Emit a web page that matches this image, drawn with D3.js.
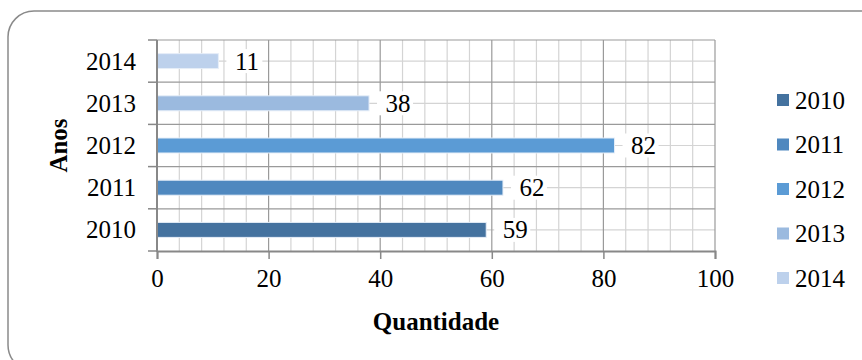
<!DOCTYPE html>
<html>
<head>
<meta charset="utf-8">
<script src="https://cdn.jsdelivr.net/npm/d3@7"></script>
<style>
  html, body { margin: 0; padding: 0; background: #fff; }
  svg { display: block; }
  text { font-family: "Liberation Serif", "Times New Roman", serif; fill: #000; }
</style>
</head>
<body>
<svg id="chart" width="862" height="360"></svg>
<script>
// Quantidade por ano
const anos = ["2010", "2011", "2012", "2013", "2014"];
const quantidades = [59, 62, 82, 38, 11];
const cores = ["#44729f", "#4f88bf", "#5b9bd5", "#9bbadf", "#bdd1ec"];
const xTicks = [0, 20, 40, 60, 80, 100];

const svg = d3.select("#chart");
const plot = { left: 157, right: 715, top: 40, bottom: 251 };
const fontSize = 25;

// rounded frame around the chart
svg.append("rect")
  .attr("x", 8).attr("y", 11)
  .attr("width", 880).attr("height", 360)
  .attr("rx", 26).attr("ry", 26)
  .attr("fill", "#fff")
  .attr("stroke", "#8a8a8a")
  .attr("stroke-width", 1.5);

const x = d3.scaleLinear().domain([0, 100]).range([plot.left, plot.right]);
const y = d3.scaleBand()
  .domain(anos.slice().reverse())
  .range([plot.top, plot.bottom])
  .padding(0);
const bw = y.bandwidth();
const barH = bw * 0.355;

const grid = svg.append("g");

// minor vertical lines every 4 units
grid.selectAll("line.vminor")
  .data(d3.range(0, 101, 4).filter(v => v % 20 !== 0))
  .join("line")
  .attr("x1", d => x(d)).attr("x2", d => x(d))
  .attr("y1", plot.top).attr("y2", plot.bottom)
  .attr("stroke", "#d4d4d4").attr("stroke-width", 1.2);

// minor horizontal lines at band centres
grid.selectAll("line.hminor")
  .data(anos)
  .join("line")
  .attr("x1", plot.left).attr("x2", plot.right)
  .attr("y1", d => y(d) + bw / 2).attr("y2", d => y(d) + bw / 2)
  .attr("stroke", "#d4d4d4").attr("stroke-width", 1.2);

// major vertical lines
grid.selectAll("line.vmajor")
  .data(xTicks.slice(1))
  .join("line")
  .attr("x1", d => x(d)).attr("x2", d => x(d))
  .attr("y1", plot.top).attr("y2", plot.bottom)
  .attr("stroke", "#9a9a9a").attr("stroke-width", 1.2);

// major horizontal lines at band boundaries
grid.selectAll("line.hmajor")
  .data(anos)
  .join("line")
  .attr("x1", plot.left).attr("x2", plot.right)
  .attr("y1", d => y(d)).attr("y2", d => y(d))
  .attr("stroke", "#9a9a9a").attr("stroke-width", 1.2);

// value labels with white backing
const labels = svg.append("g");
anos.forEach((a, i) => {
  const v = quantidades[i];
  const cy = y(a) + bw / 2;
  const tx = x(v) + 16.5;
  labels.append("rect")
    .attr("x", x(v) + 8).attr("y", cy - 12)
    .attr("width", (String(v).length * fontSize * 0.5) + 11)
    .attr("height", 24)
    .attr("fill", "#fff");
  labels.append("text")
    .attr("x", tx).attr("y", cy + 8.5)
    .attr("font-size", fontSize)
    .text(v);
});

// bars
svg.append("g").selectAll("rect")
  .data(anos)
  .join("rect")
  .attr("x", x(0))
  .attr("y", d => y(d) + (bw - barH) / 2)
  .attr("width", (d, i) => x(quantidades[i]) - x(0))
  .attr("height", barH)
  .attr("fill", (d, i) => cores[i])
  .attr("stroke", "#e6eef8")
  .attr("stroke-width", 1);

// x axis
const xAxis = svg.append("g")
  .attr("transform", `translate(0,${plot.bottom})`)
  .call(d3.axisBottom(x).tickValues(xTicks).tickSize(8).tickPadding(10));
xAxis.select(".domain").attr("stroke", "#888").attr("stroke-width", 2);
xAxis.selectAll(".tick line").attr("stroke", "#888").attr("stroke-width", 1.5);
xAxis.selectAll(".tick text")
  .attr("font-size", fontSize)
  .attr("font-family", "Liberation Serif, Times New Roman, serif")
  .attr("fill", "#000");

// y axis: ticks at band boundaries, labels at centres
const yAxis = svg.append("g").attr("transform", `translate(${plot.left},0)`);
yAxis.append("line")
  .attr("x1", 0).attr("x2", 0)
  .attr("y1", plot.top).attr("y2", plot.bottom + 1)
  .attr("stroke", "#888").attr("stroke-width", 2);
yAxis.selectAll("line.tk")
  .data(anos.map(a => y(a)).concat([plot.bottom]))
  .join("line")
  .attr("x1", -9).attr("x2", 0)
  .attr("y1", d => d).attr("y2", d => d)
  .attr("stroke", "#888").attr("stroke-width", 1.5);
yAxis.selectAll("text")
  .data(anos)
  .join("text")
  .attr("x", -21)
  .attr("y", d => y(d) + bw / 2 + 8.5)
  .attr("text-anchor", "end")
  .attr("font-size", fontSize)
  .text(d => d);

// axis titles
svg.append("text")
  .attr("x", (plot.left + plot.right) / 2)
  .attr("y", 330)
  .attr("text-anchor", "middle")
  .attr("font-size", fontSize)
  .attr("font-weight", "bold")
  .text("Quantidade");

svg.append("text")
  .attr("transform", `translate(67,${(plot.top + plot.bottom) / 2}) rotate(-90)`)
  .attr("text-anchor", "middle")
  .attr("font-size", fontSize)
  .attr("font-weight", "bold")
  .text("Anos");

// legend
const legend = svg.append("g");
anos.forEach((a, i) => {
  const cy = 100 + i * 44.5;
  legend.append("rect")
    .attr("x", 777).attr("y", cy - 6)
    .attr("width", 12).attr("height", 12)
    .attr("fill", cores[i]);
  legend.append("text")
    .attr("x", 795).attr("y", cy + 8.5)
    .attr("font-size", fontSize)
    .text(a);
});
</script>
</body>
</html>
